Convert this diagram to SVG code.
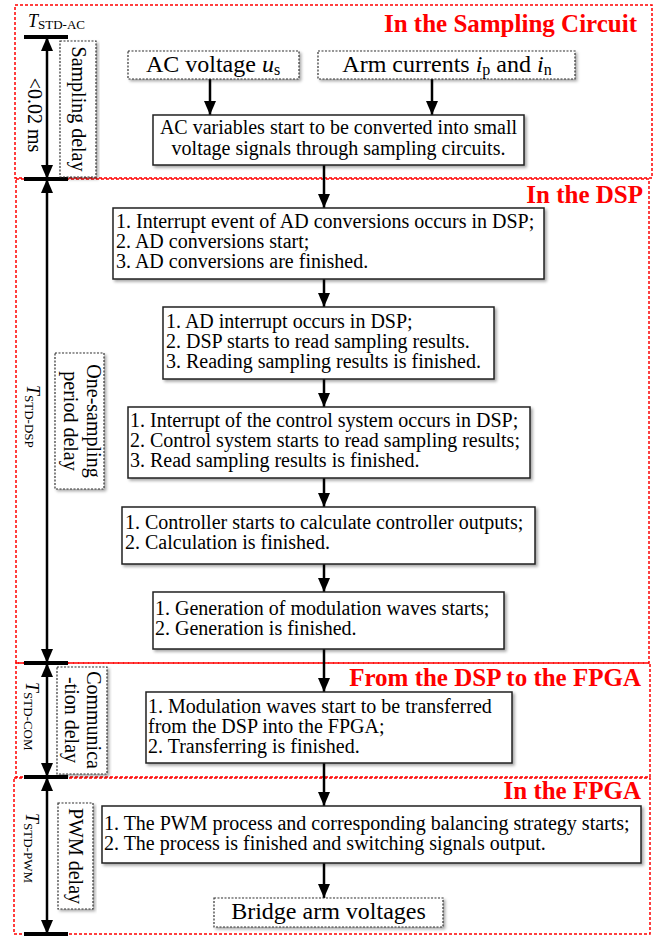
<svg xmlns="http://www.w3.org/2000/svg" width="663" height="936" viewBox="0 0 663 936">
<defs>
<style>
text{font-family:"Liberation Serif","Times New Roman",serif;fill:#000}
.t{font-size:20px}
.big{font-size:24px}
.title{font-size:25px;font-weight:bold;fill:#ff0000;text-anchor:end}
.sec{fill:none;stroke:#ff0000;stroke-width:1.5;stroke-dasharray:3 2}
.box{fill:#fff;stroke:#222;stroke-width:1.5}
.dbox{fill:#fff;stroke:#333;stroke-width:1.2;stroke-dasharray:2 1.5}
.conn line{stroke:#000;stroke-width:2.5;marker-end:url(#ah)}
.tl line{stroke:#000;stroke-width:2.5;marker-start:url(#ah);marker-end:url(#ah)}
.bar{stroke:#000;stroke-width:4}
.sym{font-size:18px;font-style:italic}
.sub{font-size:13px}
</style>
<marker id="ah" viewBox="0 0 14 12" refX="14" refY="6" markerWidth="14" markerHeight="12" markerUnits="userSpaceOnUse" orient="auto-start-reverse">
<path d="M0,0 L14,6 L0,12 Z" fill="#000"/>
</marker>
<filter id="sh" x="-5%" y="-10%" width="115%" height="130%">
<feDropShadow dx="2" dy="2" stdDeviation="1.5" flood-color="#000" flood-opacity="0.35"/>
</filter>
</defs>

<!-- section frames -->
<g id="sections">
<rect class="sec" x="15" y="5" width="637" height="173"/>
<rect class="sec" x="16" y="179" width="633" height="484"/>
<rect class="sec" x="16" y="663" width="634" height="114"/>
<rect class="sec" x="14" y="778" width="636" height="156"/>
<text class="title" x="637" y="32">In the Sampling Circuit</text>
<text class="title" x="643" y="203">In the DSP</text>
<text class="title" x="641" y="686">From the DSP to the FPGA</text>
<text class="title" x="641" y="799">In the FPGA</text>
</g>

<!-- timeline -->
<g id="timeline">
<line class="bar" x1="24" y1="37" x2="68" y2="37"/>
<line class="bar" x1="24" y1="179" x2="68" y2="179"/>
<line class="bar" x1="24" y1="663" x2="68" y2="663"/>
<line class="bar" x1="24" y1="777" x2="68" y2="777"/>
<line class="bar" x1="24" y1="934" x2="68" y2="934"/>
<g class="tl">
<line x1="47" y1="37" x2="47" y2="179"/>
<line x1="47" y1="179" x2="47" y2="663"/>
<line x1="47" y1="663" x2="47" y2="777"/>
<line x1="47" y1="777" x2="47" y2="934"/>
</g>
<text x="28" y="27"><tspan class="sym" font-size="19">T</tspan><tspan class="sub" dy="2">STD-AC</tspan></text>
<text class="t" transform="translate(28,115) rotate(90)" text-anchor="middle">&lt;0.02 ms</text>
<text transform="translate(27,385) rotate(90)"><tspan class="sym">T</tspan><tspan class="sub" dy="2">STD-DSP</tspan></text>
<text transform="translate(26,682) rotate(90)"><tspan class="sym">T</tspan><tspan class="sub" dy="2">STD-COM</tspan></text>
<text transform="translate(26,813) rotate(90)"><tspan class="sym">T</tspan><tspan class="sub" dy="2">STD-PWM</tspan></text>
</g>

<g id="delay-sampling">
<rect class="dbox" x="60" y="41" width="36" height="136" filter="url(#sh)"/>
<text class="t" transform="translate(72,109) rotate(90)" text-anchor="middle">Sampling delay</text>
</g>
<g id="delay-period">
<rect class="dbox" x="55" y="353" width="49" height="136" filter="url(#sh)"/>
<text class="t" transform="translate(87,421) rotate(90)" text-anchor="middle">One-sampling</text>
<text class="t" transform="translate(64,421) rotate(90)" text-anchor="middle">period delay</text>
</g>
<g id="delay-comm">
<rect class="dbox" x="57" y="667" width="50" height="107" filter="url(#sh)"/>
<text class="t" transform="translate(87,720) rotate(90)" text-anchor="middle">Communica</text>
<text class="t" transform="translate(65,720) rotate(90)" text-anchor="middle">-tion delay</text>
</g>
<g id="delay-pwm">
<rect class="dbox" x="58" y="803" width="35" height="106" filter="url(#sh)"/>
<text class="t" transform="translate(69,856) rotate(90)" text-anchor="middle">PWM delay</text>
</g>

<!-- connectors -->
<g id="connectors" class="conn">
<line x1="210" y1="79" x2="210" y2="115"/>
<line x1="432" y1="79" x2="432" y2="115"/>
<line x1="324" y1="165" x2="324" y2="208"/>
<line x1="324" y1="279" x2="324" y2="307"/>
<line x1="324" y1="379" x2="324" y2="407"/>
<line x1="324" y1="478" x2="324" y2="507"/>
<line x1="324" y1="564" x2="324" y2="592"/>
<line x1="324" y1="649" x2="324" y2="692"/>
<line x1="324" y1="763" x2="324" y2="806"/>
<line x1="324" y1="863" x2="324" y2="898"/>
</g>

<!-- nodes -->
<g id="n-ac-voltage">
<rect class="dbox" x="128" y="51" width="171" height="28" filter="url(#sh)"/>
<text class="big" x="213" y="72" text-anchor="middle">AC voltage <tspan font-style="italic">u</tspan><tspan font-size="16" dy="3">s</tspan></text>
</g>
<g id="n-arm-currents">
<rect class="dbox" x="318" y="51" width="257" height="28" filter="url(#sh)"/>
<text class="big" x="447" y="72" text-anchor="middle">Arm currents <tspan font-style="italic">i</tspan><tspan font-size="16" dy="3">p</tspan><tspan dy="-3"> and </tspan><tspan font-style="italic">i</tspan><tspan font-size="16" dy="3">n</tspan></text>
</g>
<g id="n-sampling">
<rect class="box" x="153" y="115" width="371" height="50" filter="url(#sh)"/>
<text class="t" x="338.5" y="134" text-anchor="middle">AC variables start to be converted into small</text>
<text class="t" x="338.5" y="155" text-anchor="middle">voltage signals through sampling circuits.</text>
</g>
<g id="n-ad-conv">
<rect class="box" x="113" y="208" width="431" height="71" filter="url(#sh)"/>
<text class="t" x="116" y="228">1. Interrupt event of AD conversions occurs in DSP;</text>
<text class="t" x="116" y="248">2. AD conversions start;</text>
<text class="t" x="116" y="268">3. AD conversions are finished.</text>
</g>
<g id="n-ad-int">
<rect class="box" x="163" y="307" width="331" height="72" filter="url(#sh)"/>
<text class="t" x="166" y="328">1. AD interrupt occurs in DSP;</text>
<text class="t" x="166" y="348">2. DSP starts to read sampling results.</text>
<text class="t" x="166" y="368">3. Reading sampling results is finished.</text>
</g>
<g id="n-ctrl-int">
<rect class="box" x="128" y="407" width="402" height="71" filter="url(#sh)"/>
<text class="t" x="130" y="427">1. Interrupt of the control system occurs in DSP;</text>
<text class="t" x="130" y="447">2. Control system starts to read sampling results;</text>
<text class="t" x="130" y="467">3. Read sampling results is finished.</text>
</g>
<g id="n-controller">
<rect class="box" x="122" y="507" width="413" height="57" filter="url(#sh)"/>
<text class="t" x="125" y="529">1. Controller starts to calculate controller outputs;</text>
<text class="t" x="125" y="549">2. Calculation is finished.</text>
</g>
<g id="n-modulation">
<rect class="box" x="153" y="592" width="351" height="57" filter="url(#sh)"/>
<text class="t" x="155" y="615">1. Generation of modulation waves starts;</text>
<text class="t" x="155" y="635">2. Generation is finished.</text>
</g>
<g id="n-transfer">
<rect class="box" x="146" y="692" width="366" height="71" filter="url(#sh)"/>
<text class="t" x="148" y="713">1. Modulation waves start to be transferred</text>
<text class="t" x="148" y="733">from the DSP into the FPGA;</text>
<text class="t" x="148" y="753">2. Transferring is finished.</text>
</g>
<g id="n-pwm">
<rect class="box" x="102" y="806" width="539" height="57" filter="url(#sh)"/>
<text class="t" x="104" y="830">1. The PWM process and corresponding balancing strategy starts;</text>
<text class="t" x="104" y="850">2. The process is finished and switching signals output.</text>
</g>
<g id="n-bridge">
<rect class="dbox" x="214" y="898" width="229" height="29" filter="url(#sh)"/>
<text class="big" x="328.5" y="919" text-anchor="middle">Bridge arm voltages</text>
</g>
</svg>
